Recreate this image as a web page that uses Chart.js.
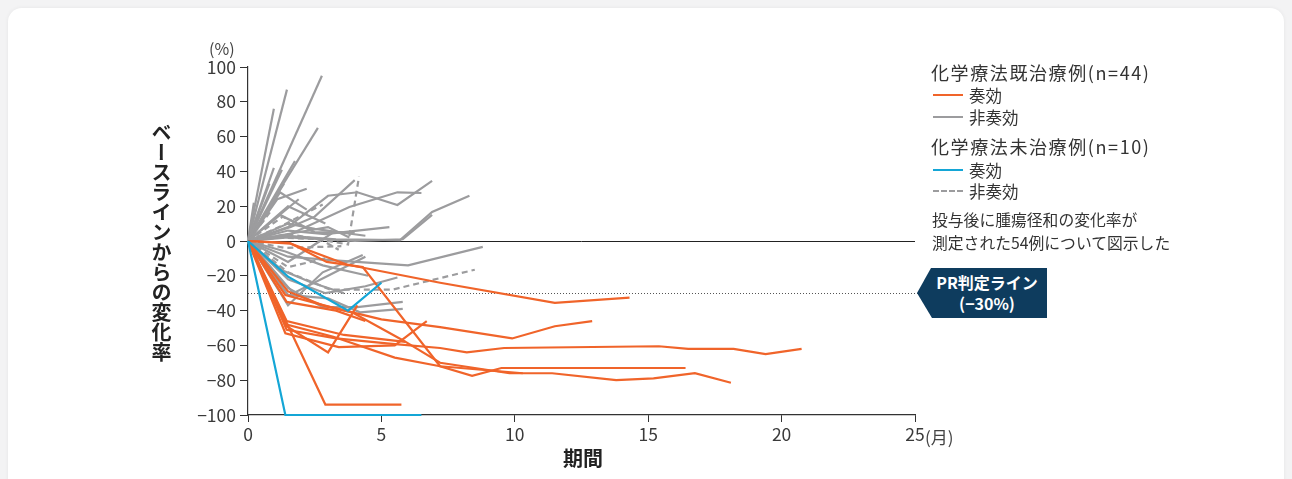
<!DOCTYPE html>
<html lang="ja">
<head>
<meta charset="utf-8">
<title>ベースラインからの変化率</title>
<script src="https://cdn.jsdelivr.net/npm/chart.js@4/dist/chart.umd.min.js"></script>
<style>
  html, body { margin: 0; padding: 0; }
  body {
    width: 1292px; height: 479px; overflow: hidden; position: relative;
    background: #f3f3f4;
    font-family: "Noto Sans CJK JP", "Noto Sans", sans-serif;
    color: #333;
  }
  .card {
    position: absolute; left: 8px; top: 8px; width: 1276px; height: 520px;
    background: #fff; border-radius: 14px;
    box-shadow: 0 0 4px rgba(0,0,0,0.06);
  }
  #wrap { position: absolute; left: 0; top: 0; width: 1292px; height: 479px; }
  .abs { position: absolute; white-space: nowrap; }
  .ytitle {
    left: 150px; top: 122px; writing-mode: vertical-rl;
    font-size: 20px; font-weight: 700; color: #222; line-height: 22px;
  }
  .xtitle { left: 563px; top: 443px; font-size: 20px; font-weight: 700; color: #222; }
  .unit-y { left: 209px; top: 36px; font-size: 16px; color: #444; }
  .unit-x { left: 925px; top: 424px; font-size: 17px; color: #444; }
  .lg-head { font-size: 18px; letter-spacing: 1.6px; color: #333; left: 931px; }
  .lg-item { font-size: 16.5px; color: #333; left: 969px; }
  .lg-note { font-size: 15.8px; color: #333; left: 932px; }
  .swatch { position: absolute; left: 933px; width: 30px; height: 0; }
  .pr {
    position: absolute; left: 917px; top: 268px; width: 130px; height: 50px;
    background: #0e3c5e;
    clip-path: polygon(14px 0, 100% 0, 100% 100%, 15px 100%, 0 50%);
    color: #fff; font-weight: 700; font-size: 16px; line-height: 21px;
    text-align: center; padding-top: 4px; box-sizing: border-box; padding-left: 10px;
  }
</style>
</head>
<body>
<div class="card"></div>
<div id="wrap"><canvas id="c"></canvas></div>

<div class="abs ytitle">ベースラインからの変化率</div>
<div class="abs xtitle">期間</div>
<div class="abs unit-y">(%)</div>
<div class="abs unit-x">(月)</div>

<div class="abs lg-head" style="top:59px">化学療法既治療例(n=44)</div>
<div class="swatch" style="top:94px;border-top:2px solid #f0642a"></div>
<div class="abs lg-item" style="top:83px">奏効</div>
<div class="swatch" style="top:116px;border-top:2px solid #9c9c9e"></div>
<div class="abs lg-item" style="top:105px">非奏効</div>

<div class="abs lg-head" style="top:133px">化学療法未治療例(n=10)</div>
<div class="swatch" style="top:169px;border-top:2px solid #14a6d6"></div>
<div class="abs lg-item" style="top:158px">奏効</div>
<div class="swatch" style="top:190px;border-top:2px dashed #9c9c9e"></div>
<div class="abs lg-item" style="top:179px">非奏効</div>

<div class="abs lg-note" style="top:208px">投与後に腫瘍径和の変化率が</div>
<div class="abs lg-note" style="top:231px">測定された54例について図示した</div>

<div class="pr">PR判定ライン<br>(−30%)</div>

<script>
// Axis ticks
const xTicks = [0, 5, 10, 15, 20, 25];
const yTicks = [-100, -80, -60, -40, -20, 0, 20, 40, 60, 80, 100];
const prThreshold = -30;

// Prior chemotherapy, responders: [month, % change from baseline]
const priorResp01 = [[0,0],[1.45,-47],[2.9,-94],[5.75,-94]];
const priorResp02 = [[0,0],[1.5,-29],[2.8,-37],[3.9,-41],[5.8,-57],[7.2,-70],[9.8,-76],[11.4,-76],[13.8,-80],[15.2,-79],[16.75,-76],[18.1,-81.5]];
const priorResp03 = [[0,0],[1.55,-1],[2.95,-12],[4.3,-15],[7.2,-72],[8.4,-77.5],[9.5,-73],[16.4,-73]];
const priorResp04 = [[0,0],[1.6,-1.5],[3.7,-13.5],[7.2,-24],[11.5,-35.5],[14.3,-32.5]];
const priorResp05 = [[0,0],[1.45,-51],[3.3,-56],[5.3,-59],[7.2,-61.5],[8.2,-64],[9.6,-61.5],[15.4,-60.5],[16.5,-62],[18.2,-62],[19.4,-65],[20.75,-62]];
const priorResp06 = [[0,0],[1.4,-31],[3.1,-38],[5,-45],[7.2,-49.5],[9.9,-56],[11.5,-49],[12.9,-46]];
const priorResp07 = [[0,0],[1.45,-48],[3.2,-55],[5.5,-67],[7.2,-72],[10.3,-76]];
const priorResp08 = [[0,0],[1.4,-53],[3.4,-61],[5.5,-60],[6.7,-46]];
const priorResp09 = [[0,0],[1.45,-49],[3,-64],[4.1,-37]];
const priorResp10 = [[0,0],[1.45,-46],[3.6,-54],[5.9,-58]];
const priorResp11 = [[0,0],[1.45,-35],[3.3,-40],[4.4,-46]];

// Prior chemotherapy, non-responders
const priorNon01 = [[0,0],[2.77,95]];
const priorNon02 = [[0,0],[1.46,87]];
const priorNon03 = [[0,0],[0.97,76]];
const priorNon04 = [[0,0],[2.62,65]];
const priorNon05 = [[0,0],[0.97,42]];
const priorNon06 = [[0,0],[1.27,41]];
const priorNon07 = [[0,0],[1.35,33]];
const priorNon08 = [[0,0],[1.76,46]];
const priorNon09 = [[0,0],[1.9,24]];
const priorNon10 = [[0,0],[0.22,22]];
const priorNon11 = [[0,0],[0.8,33]];
const priorNon12 = [[0,0],[1.2,28],[2.2,18]];
const priorNon13 = [[0,0],[1.5,8],[3,26],[4.1,28],[5.6,20.7],[6.9,34.5]];
const priorNon14 = [[0,0],[1.6,4],[3.8,19.5],[5.6,28],[6.5,27.6]];
const priorNon15 = [[0,0],[1.5,3],[3.3,1],[5.7,0.5],[6.9,16.7],[8.3,26]];
const priorNon16 = [[0,0],[1.5,2],[4,0],[5.8,1],[6.9,15]];
const priorNon17 = [[0,0],[1.5,6],[2.9,4],[5.3,8]];
const priorNon18 = [[0,0],[1.5,-9],[3.1,-11],[6,-14],[8.8,-3.4]];
const priorNon19 = [[0,0],[1.5,-22],[2.9,-30],[4.4,-26],[5.6,-21]];
const priorNon20 = [[0,0],[1.5,-27],[2.8,-38],[4.1,-38],[5.8,-35]];
const priorNon21 = [[0,0],[1.5,-31],[3,-33],[4.2,-41],[5.8,-39]];
const priorNon22 = [[0,0],[1.5,-37],[2.8,-18],[4.3,-8]];
const priorNon23 = [[0,0],[1.7,-30],[3,-20],[4.4,-9]];
const priorNon24 = [[0,0],[1.5,-12],[2.5,-2],[3.2,5]];
const priorNon25 = [[0,0],[1.5,10],[2.5,7],[4.4,3]];
const priorNon26 = [[0,0],[1.2,15],[2.5,5],[4,5]];
const priorNon27 = [[0,0],[1.4,-6],[2.8,-14],[4.5,-20]];
const priorNon28 = [[0,0],[1.5,4],[3,8],[3.8,2]];
const priorNon29 = [[0,0],[1.6,8],[2.5,14],[4,35]];
const priorNon30 = [[0,0],[0.6,12]];
const priorNon31 = [[0,0],[1.5,20],[2.9,10]];
const priorNon32 = [[0,0],[1.1,24],[2.2,30]];
const priorNon33 = [[0,0],[1.3,-17],[2.4,-24],[3.6,-30]];

// Chemotherapy-naive, responders
const naiveResp01 = [[0,0],[1.4,-100],[6.5,-100]];
const naiveResp02 = [[0,0],[1.5,-20.5],[2.6,-30],[3.75,-40],[5,-24]];

// Chemotherapy-naive, non-responders
const naiveNon01 = [[0,0],[1.5,4],[3.75,-2],[4.16,37]];
const naiveNon02 = [[0,0],[1.3,9],[2.8,21]];
const naiveNon03 = [[0,0],[1.5,-18],[3.1,-28],[5.4,-28],[8.5,-16.5]];
const naiveNon04 = [[0,0],[1.3,14],[2.3,7]];
const naiveNon05 = [[0,0],[1.4,-4],[3.5,-3]];
const naiveNon06 = [[0,0],[1.2,2],[2.7,1],[3.4,-5]];
const naiveNon07 = [[0,0],[1.5,-15],[2.9,-10]];
const naiveNon08 = [[0,0],[0.9,18]];

const priorResponders = [priorResp01, priorResp02, priorResp03, priorResp04, priorResp05, priorResp06,
  priorResp07, priorResp08, priorResp09, priorResp10, priorResp11];
const priorNonResponders = [priorNon01, priorNon02, priorNon03, priorNon04, priorNon05, priorNon06,
  priorNon07, priorNon08, priorNon09, priorNon10, priorNon11, priorNon12, priorNon13, priorNon14,
  priorNon15, priorNon16, priorNon17, priorNon18, priorNon19, priorNon20, priorNon21, priorNon22,
  priorNon23, priorNon24, priorNon25, priorNon26, priorNon27, priorNon28, priorNon29, priorNon30,
  priorNon31, priorNon32, priorNon33];
const naiveResponders = [naiveResp01, naiveResp02];
const naiveNonResponders = [naiveNon01, naiveNon02, naiveNon03, naiveNon04, naiveNon05, naiveNon06,
  naiveNon07, naiveNon08];

const ORANGE = '#f0642a';
const GRAY = '#9c9c9e';
const BLUE = '#14a6d6';
const FONT = '"Noto Sans CJK JP", "Noto Sans", sans-serif';

function toPoints(series) {
  return series.map(([x, y]) => ({ x, y }));
}
function makeSets(group, color, dashed) {
  return group.map(series => ({
    data: toPoints(series),
    borderColor: color,
    borderWidth: 2.2,
    borderDash: dashed ? [6, 4] : [],
    pointRadius: 0,
    pointHoverRadius: 0,
    tension: 0,
    fill: false,
    clip: false
  }));
}

// Index 0 is painted last, so responders sit above the grey traces
const datasets = [
  ...makeSets(naiveResponders, BLUE, false),
  ...makeSets(priorResponders, ORANGE, false),
  ...makeSets(naiveNonResponders, GRAY, true),
  ...makeSets(priorNonResponders, GRAY, false)
];

// Baseline (0 %) rule and the dotted PR threshold rule
const referenceLines = {
  id: 'referenceLines',
  beforeDatasetsDraw(chart) {
    const { ctx, chartArea, scales } = chart;
    const y0 = Math.round(scales.y.getPixelForValue(0)) + 0.5;
    const yPR = Math.round(scales.y.getPixelForValue(prThreshold)) + 0.5;
    ctx.save();
    ctx.strokeStyle = '#222';
    ctx.lineWidth = 1;
    ctx.beginPath();
    ctx.moveTo(chartArea.left, y0);
    ctx.lineTo(chartArea.right, y0);
    ctx.stroke();
    ctx.strokeStyle = '#555';
    ctx.setLineDash([1, 2]);
    ctx.beginPath();
    ctx.moveTo(chartArea.left, yPR);
    ctx.lineTo(chartArea.right + 3, yPR);
    ctx.stroke();
    ctx.restore();
  }
};

const minusFmt = v => (v < 0 ? '−' + Math.abs(v) : String(v));

new Chart(document.getElementById('c'), {
  type: 'line',
  data: { datasets },
  plugins: [referenceLines],
  options: {
    responsive: true,
    maintainAspectRatio: false,
    devicePixelRatio: 1,
    animation: false,
    events: [],
    layout: { padding: { left: 0, top: 67, right: 377, bottom: 0 } },
    plugins: { legend: { display: false }, tooltip: { enabled: false } },
    scales: {
      x: {
        type: 'linear',
        min: xTicks[0],
        max: xTicks[xTicks.length - 1],
        afterBuildTicks(scale) { scale.ticks = xTicks.map(v => ({ value: v })); },
        afterFit(scale) { scale.height = 64; },
        ticks: { color: '#3a3a3a', font: { family: FONT, size: 17.5 }, padding: 2, maxRotation: 0 },
        grid: { display: true, drawOnChartArea: false, drawTicks: true, tickLength: 7, tickColor: '#333' },
        border: { display: true, color: '#333', width: 1.2 }
      },
      y: {
        type: 'linear',
        min: yTicks[0],
        max: yTicks[yTicks.length - 1],
        afterBuildTicks(scale) { scale.ticks = yTicks.map(v => ({ value: v })); },
        afterFit(scale) { scale.width = 248; },
        ticks: { color: '#3a3a3a', font: { family: FONT, size: 17.5 }, padding: 4, callback: minusFmt },
        grid: { display: true, drawOnChartArea: false, drawTicks: true, tickLength: 8, tickColor: '#333' },
        border: { display: true, color: '#333', width: 1.2 }
      }
    }
  }
});
</script>
</body>
</html>
